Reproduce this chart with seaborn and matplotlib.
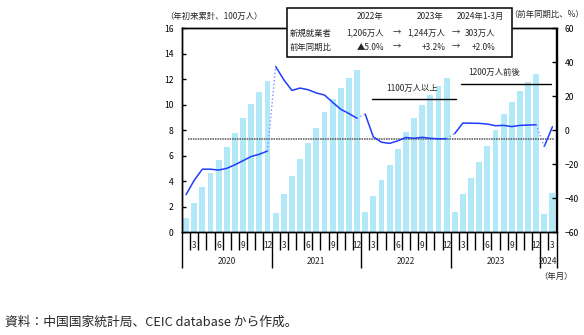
import matplotlib
matplotlib.use("Agg")
import matplotlib.pyplot as plt
from matplotlib.patches import Rectangle
from matplotlib.transforms import blended_transform_factory
import numpy as np
import pandas as pd
import seaborn as sns

sns.set_theme(style="white")
plt.rcParams["font.family"] = ["Noto Sans CJK JP", "DejaVu Sans"]

# ---- data -------------------------------------------------------------
years = ["2020", "2021", "2022", "2023", "2024"]
month_slots = ["1-2", "3", "4", "5", "6", "7", "8", "9", "10", "11", "12"]
month_tick_labels = {"3": "3", "6": "6", "9": "9", "12": "12"}

# cumulative new urban employment since January (million persons)
jobs_2020 = [1.08, 2.29, 3.54, 4.60, 5.64, 6.71, 7.81, 8.98, 10.09, 10.99, 11.86]
jobs_2021 = [1.49, 2.97, 4.37, 5.74, 6.98, 8.18, 9.43, 10.45, 11.33, 12.07, 12.69]
jobs_2022 = [1.60, 2.85, 4.06, 5.29, 6.54, 7.83, 8.98, 10.01, 10.79, 11.45, 12.06]
jobs_2023 = [1.57, 2.97, 4.23, 5.50, 6.78, 8.03, 9.24, 10.22, 11.10, 11.80, 12.44]
jobs_2024 = [1.42, 3.03]

# year-on-year change of the cumulative figure (%)
yoy_2020 = [-38.0, -29.5, -23.0, -23.0, -23.5, -22.5, -20.4, -18.0, -15.5, -14.2, -12.3]
yoy_2021 = [37.5, 29.7, 23.4, 24.8, 23.8, 21.9, 20.7, 16.4, 12.3, 9.8, 7.0]
yoy_2022 = [9.5, -4.0, -7.1, -7.8, -6.3, -4.3, -4.8, -4.2, -4.8, -5.1, -5.0]
yoy_2023 = [-2.0, 4.2, 4.1, 4.0, 3.6, 2.6, 2.8, 2.1, 2.8, 3.0, 3.2]
yoy_2024 = [-9.6, 2.0]

reference_yoy = -5.5

jobs_by_year = [jobs_2020, jobs_2021, jobs_2022, jobs_2023, jobs_2024]
yoy_by_year = [yoy_2020, yoy_2021, yoy_2022, yoy_2023, yoy_2024]

rows = []
for y, jobs, yoy in zip(years, jobs_by_year, yoy_by_year):
    for m, j, r in zip(month_slots, jobs, yoy):
        rows.append({"year": y, "month": m, "jobs": j, "yoy": r})
df = pd.DataFrame(rows)
df["pos"] = np.arange(len(df))
df["label"] = df["year"] + "-" + df["month"]

# table contents
table_header = ["2022年", "2023年", "2024年1-3月"]
table_row1 = ["新規就業者", "1,206万人", "1,244万人", "303万人"]
table_row2 = ["前年同期比", "▲5.0%", "+3.2%", "+2.0%"]

# ---- figure -----------------------------------------------------------
W, H = 584, 335
fig = plt.figure(figsize=(W / 100, H / 100), dpi=100)
ax = fig.add_axes([182 / W, 1 - 232 / H, (556.5 - 182) / W, (232 - 28.3) / H])

bar_color = "#b3e8f8"
sns.barplot(data=df, x="label", y="jobs", order=list(df["label"]), color=bar_color,
            width=0.72, saturation=1, linewidth=0, edgecolor="none", ax=ax, zorder=2)
n = len(df)
ax.set_xlim(-0.5, n - 0.5)
ax.set_ylim(0, 16)
ax.set_yticks(np.arange(0, 17, 2))
ax.set_xlabel("")
ax.set_ylabel("")

ax2 = ax.twinx()
ax2.set_ylim(-60, 60)
ax2.set_yticks(np.arange(-60, 61, 20))

line_color = "#1f3dff"
conn_color = "#7f93ff"
# solid line within each calendar year
for y in years:
    sub = df[df["year"] == y]
    sns.lineplot(x=sub["pos"].values, y=sub["yoy"].values, ax=ax2, color=line_color,
                 lw=1.1, zorder=4)
# dotted connection across year boundaries
for y0, y1 in zip(years[:-1], years[1:]):
    a = df[df["year"] == y0].iloc[-1]
    b = df[df["year"] == y1].iloc[0]
    sns.lineplot(x=[a["pos"], b["pos"]], y=[a["yoy"], b["yoy"]], ax=ax2,
                 color=conn_color, lw=1.0, linestyle=":", zorder=4)

# reference level
ax2.plot([0.25, n - 0.75], [reference_yoy, reference_yoy], color="#555555",
         lw=1.1, linestyle=(0, (1, 0.6)), zorder=3)

# horizontal level markers with captions (left axis units)
ax.plot([22.8, 33.1], [10.45, 10.45], color="black", lw=1.0, zorder=5)
ax.text(27.8, 11.3, "1100万人以上", ha="center", va="center", fontsize=6, zorder=5)
ax.plot([33.8, 44.85], [11.63, 11.63], color="black", lw=1.0, zorder=5)
ax.text(37.8, 12.55, "1200万人前後", ha="center", va="center", fontsize=6, zorder=5)

# ticks and spines
for a in (ax, ax2):
    for s in a.spines.values():
        s.set_color("black")
        s.set_linewidth(1.0)
ax.tick_params(axis="y", direction="in", length=3, width=1, labelsize=6.2, pad=6,
               colors="black", left=True, right=False)
ax2.tick_params(axis="y", direction="in", length=3, width=1, labelsize=6.2, pad=6,
                colors="black", right=True, left=False)

# x axis: month separators and longer year separators
year_bounds = [-0.5]
for y in years:
    year_bounds.append(year_bounds[-1] + (df["year"] == y).sum())
all_bounds = np.arange(-0.5, n, 1.0)
minor_bounds = [b for b in all_bounds if not any(abs(b - yb) < 1e-9 for yb in year_bounds)]
ax.set_xticks(year_bounds)
ax.set_xticklabels([""] * len(year_bounds))
ax.set_xticks(minor_bounds, minor=True)
ax.tick_params(axis="x", which="major", direction="out", length=26, width=1, colors="black",
               bottom=True)
ax.tick_params(axis="x", which="minor", direction="out", length=13, width=1, colors="black",
               bottom=True)

trans = blended_transform_factory(ax.transData, fig.transFigure)
for _, r in df.iterrows():
    if r["month"] in month_tick_labels:
        ax.text(r["pos"], 1 - 245 / H, month_tick_labels[r["month"]], transform=trans,
                ha="center", va="center", fontsize=6)
for i, y in enumerate(years):
    cx = (year_bounds[i] + year_bounds[i + 1]) / 2
    ax.text(cx, 1 - 262 / H, y, transform=trans, ha="center", va="center", fontsize=6)

# axis captions
fig.text(214 / W, 1 - 16.7 / H, "（年初来累計、100万人）", ha="center", va="center", fontsize=6)
fig.text(547 / W, 1 - 14 / H, "（前年同期比、%）", ha="center", va="center", fontsize=6)
fig.text(556 / W, 1 - 276 / H, "（年月）", ha="center", va="center", fontsize=6)

# summary table
box = Rectangle((286.7 / W, 1 - 56.7 / H), (512.3 - 286.7) / W, (56.7 - 8.3) / H,
                transform=fig.transFigure, facecolor="white", edgecolor="black",
                lw=1.1, zorder=10)
fig.add_artist(box)
tkw = dict(fontsize=6, va="center", zorder=11)
for txt, cx in zip(table_header, [370, 430, 480]):
    fig.text(cx / W, 1 - 16.7 / H, txt, ha="center", **tkw)
for row, yy in ((table_row1, 33.3), (table_row2, 47.3)):
    fig.text(290 / W, 1 - yy / H, row[0], ha="left", **tkw)
    for txt, rx in zip(row[1:], [384, 445.5, 495.5]):
        fig.text(rx / W, 1 - yy / H, txt, ha="right", **tkw)
    for ax_ in (397, 456):
        fig.text(ax_ / W, 1 - yy / H, "→", ha="center", **tkw)

# source note
fig.text(5 / W, 1 - 322 / H, "資料：中国国家統計局、CEIC database から作成。",
         ha="left", va="center", fontsize=9.2)

fig.savefig("out.png", dpi=100)
